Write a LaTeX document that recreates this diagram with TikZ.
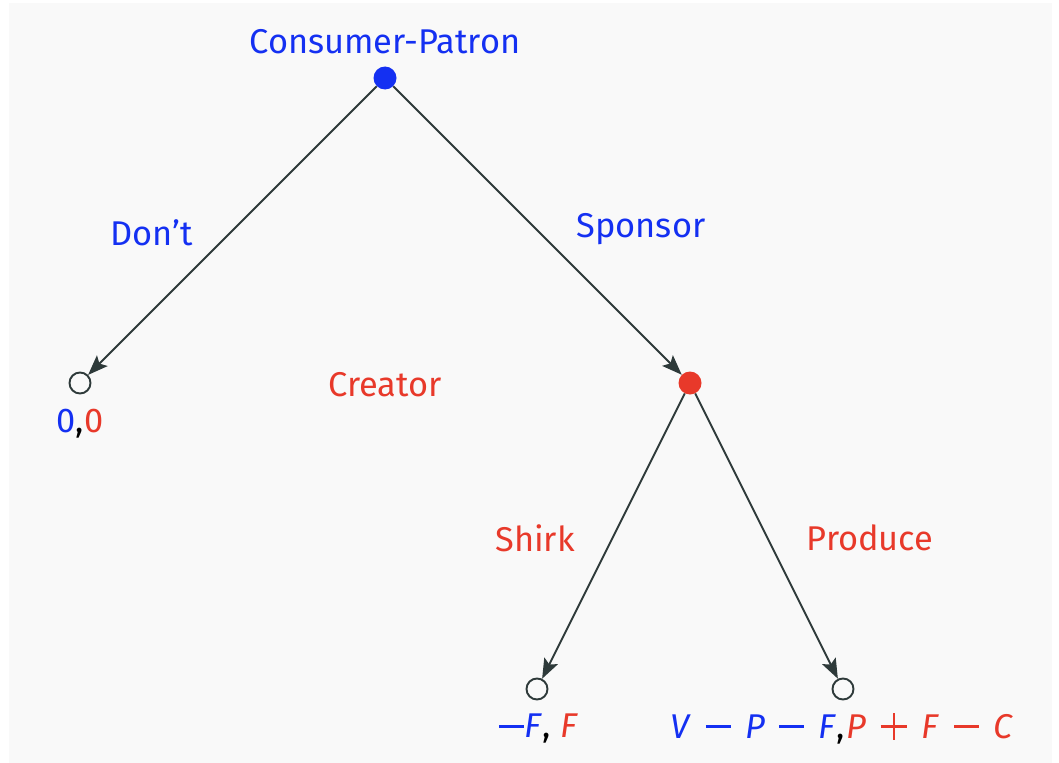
\documentclass[tikz,border=0pt]{standalone}
\usepackage{fontspec}
\setmainfont{Fira Sans}
\usetikzlibrary{arrows.meta}
\definecolor{bg}{HTML}{F9F9F9}
\definecolor{pblue}{HTML}{1430F2}
\definecolor{pred}{HTML}{E8392A}
\definecolor{edgec}{HTML}{2E3A3A}
\newcommand{\mv}[1]{\textit{#1}}
\newcommand{\minusglyph}{\rule[0.3em]{0.72em}{0.075em}}
\newcommand{\plusglyph}{\ooalign{\rule[0.3em]{0.78em}{0.075em}\cr\hfil\raisebox{-0.05em}{\rule{0.075em}{0.78em}}\hfil\cr}}
\newcommand{\mminus}{\hspace{0.42em}\minusglyph\hspace{0.42em}}
\newcommand{\mplus}{\hspace{0.42em}\plusglyph\hspace{0.42em}}
\begin{document}
\begin{tikzpicture}[x=1bp,y=-1bp,
  font=\fontsize{34.5}{40}\selectfont,
  decnode/.style={circle,inner sep=0pt,minimum size=23bp,draw=none},
  leafnode/.style={circle,inner sep=0pt,minimum size=21bp,draw=edgec,line width=1.9bp,fill=bg},
  arr/.style={draw=edgec,line width=1.9bp,-{Stealth[length=20bp,width=15bp,inset=4bp]}},
  lbl/.style={inner sep=0pt,anchor=center}]
\useasboundingbox (0,0) rectangle (1059,763);
\fill[bg] (9,3) rectangle (1052,763);

\node[decnode,fill=pblue] (root) at (385,78) {};
\node[decnode,fill=pred] (creator) at (690,383) {};
\node[leafnode] (leafL) at (80,383) {};
\node[leafnode] (leafS) at (537,689) {};
\node[leafnode] (leafP) at (843,689) {};

\draw[arr] (root) -- (leafL);
\draw[arr] (root) -- (creator);
\draw[arr] (creator) -- (leafS);
\draw[arr] (creator) -- (leafP);

\node[lbl,text=pblue] (tRoot) at (385,42) {Consumer-Patron};
\node[lbl,text=pred] (tCreator) at (385,385) {Creator};
\node[lbl,text=pblue] (tDont) at (152,233) {Don’t};
\node[lbl,text=pblue] (tSponsor) at (641,229) {Sponsor};
\node[lbl,text=pred] (tShirk) at (535,538) {Shirk};
\node[lbl,text=pred] (tProduce) at (870,538) {Produce};

\node[lbl] (pL) at (80,424) {\textcolor{pblue}{0},\textcolor{pred}{0}};
\node[lbl] (pS) at (539,729) {\textcolor{pblue}{\minusglyph\mv{F}},\hspace{0.3em}\textcolor{pred}{\mv{F}}};
\node[lbl] (pP) at (842,729) {\textcolor{pblue}{\mv{V}\mminus\mv{P}\mminus\mv{F}},\hspace{0.05em}\textcolor{pred}{\mv{P}\mplus\mv{F}\mminus\mv{C}}};
\end{tikzpicture}
\end{document}
